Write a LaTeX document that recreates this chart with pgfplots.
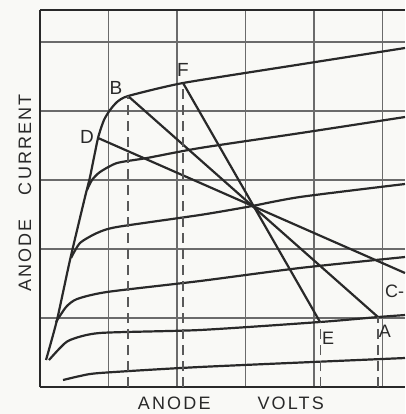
\documentclass[border=0pt]{standalone}
\usepackage{pgfplots}
\pgfplotsset{compat=1.18}
\usepackage{fontspec}
\setmainfont{Liberation Sans}
\newfontfamily\lblfont[LetterSpace=12]{Liberation Sans}
\definecolor{paper}{rgb}{0.975,0.975,0.965}
\definecolor{ink}{rgb}{0.16,0.16,0.16}
\begin{document}
\begin{tikzpicture}
\fill[paper] (-40pt,-27pt) rectangle (365pt,387pt);
\begin{axis}[
  scale only axis, width=365pt, height=377pt,
  xmin=0, xmax=5.328, ymin=0, ymax=5.464,
  axis x line*=box, axis y line*=left,
  axis line style={-, line width=2pt, ink},
  xtick={1,2,3,4,5}, ytick={1,2,3,4,5},
  xticklabels={}, yticklabels={},
  major tick length=0pt,
  grid=major, grid style={black!58, line width=1.1pt},
  clip=false,
]
% characteristic curves
\addplot[ink, line width=2.2pt, mark=none, smooth, tension=0.35] coordinates {
 (0.088,0.391) (0.248,0.971) (0.438,1.841) (0.657,2.754) (0.73,3.043)
 (0.847,3.609) (0.934,3.87) (1.022,4.014) (1.124,4.130) (1.285,4.217)
 (2.088,4.406) (3.796,4.675) (5.328,4.913)};
\addplot[ink, line width=2.2pt, mark=none, smooth, tension=0.4] coordinates {
 (0.686,2.855) (0.759,3.0) (0.876,3.116) (1.124,3.246) (1.562,3.319)
 (2.336,3.464) (3.8,3.68) (5.328,3.913)};
\addplot[ink, line width=2.2pt, mark=none, smooth, tension=0.4] coordinates {
 (0.453,1.870) (0.584,2.087) (0.832,2.232) (1.124,2.319) (2.336,2.493)
 (3.022,2.609) (3.796,2.754) (5.328,2.942)};
\addplot[ink, line width=2.2pt, mark=none, smooth, tension=0.4] coordinates {
 (0.234,0.942) (0.380,1.159) (0.540,1.275) (0.978,1.377) (2.336,1.536)
 (3.796,1.725) (5.328,1.884)};
\addplot[ink, line width=2.2pt, mark=none, smooth, tension=0.4] coordinates {
 (0.131,0.391) (0.292,0.565) (0.438,0.681) (0.876,0.783) (2.336,0.826)
 (4.088,0.942) (4.934,1.014) (5.328,1.043)};
\addplot[ink, line width=2.2pt, mark=none, smooth, tension=0.4] coordinates {
 (0.336,0.101) (0.584,0.159) (0.876,0.203) (2.336,0.290) (5.328,0.420)};
% load lines
\addplot[ink, line width=2.2pt, mark=none] coordinates {(1.285,4.217) (4.934,1.014)};
\addplot[ink, line width=2.2pt, mark=none] coordinates {(2.088,4.406) (4.088,0.942)};
\addplot[ink, line width=2.2pt, mark=none] coordinates {(0.847,3.609) (5.328,1.652)};
% dashed verticals
\addplot[line width=1.1pt, black!65, mark=none, dash pattern=on 10pt off 6pt] coordinates {(1.285,0) (1.285,4.217)};
\addplot[line width=1.1pt, black!65, mark=none, dash pattern=on 10pt off 6pt] coordinates {(2.088,0) (2.088,4.406)};
\addplot[line width=1.1pt, black!65, mark=none, dash pattern=on 10pt off 6pt] coordinates {(4.088,0) (4.088,0.942)};
\addplot[line width=1.1pt, black!65, mark=none, dash pattern=on 10pt off 6pt] coordinates {(4.934,0) (4.934,1.014)};
% point labels
\node[font=\fontsize{19}{19}\selectfont, ink] at (axis cs:1.11,4.33) {B};
\node[font=\fontsize{19}{19}\selectfont, ink] at (axis cs:2.088,4.60) {F};
\node[font=\fontsize{19}{19}\selectfont, ink] at (axis cs:0.686,3.62) {D};
\node[font=\fontsize{18}{18}\selectfont, ink] at (axis cs:4.204,0.71) {E};
\node[font=\fontsize{18}{18}\selectfont, ink] at (axis cs:5.036,0.80) {A};
\node[font=\fontsize{18}{18}\selectfont, ink, anchor=west, inner sep=0pt] at (axis cs:5.036,1.39) {C-};
% axis labels
\node[rotate=90, inner sep=0pt, font=\lblfont\fontsize{18}{18}\selectfont, ink] at (rel axis cs:-0.041,0.515) {ANODE\hspace{24pt}CURRENT};
\node[anchor=north, inner sep=0pt, font=\lblfont\fontsize{18}{18}\selectfont, ink] at (rel axis cs:0.523,-0.0265) {ANODE\hspace{47pt}VOLTS};
\end{axis}
\pgfresetboundingbox
\useasboundingbox (-40pt,-27pt) rectangle (365pt,387pt);
\end{tikzpicture}
\end{document}
